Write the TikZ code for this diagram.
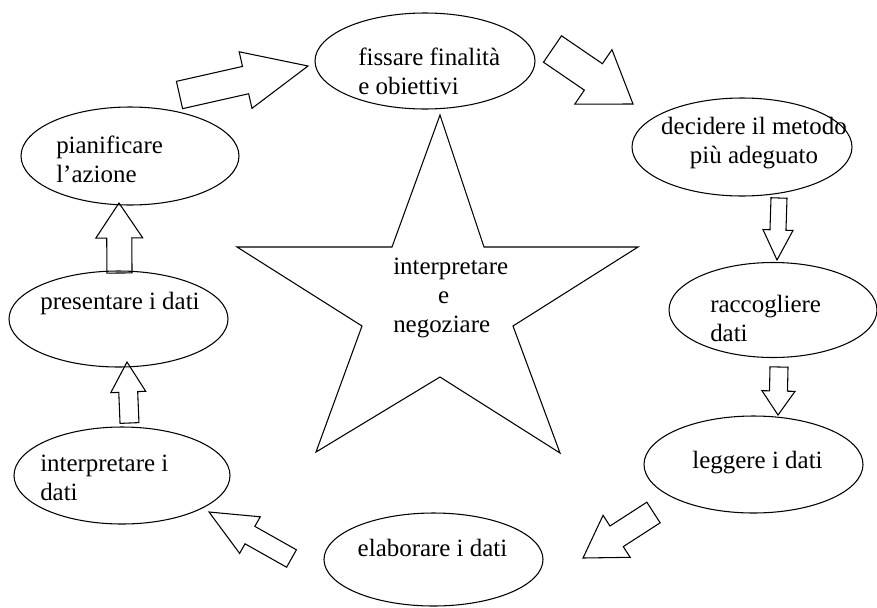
\documentclass[tikz,border=0pt]{standalone}
\usepackage{fontspec}
\setmainfont{Liberation Serif}
\usetikzlibrary{shapes.geometric,calc}

% block arrow: #1 tail, #2 tip, #3 half shaft, #4 half head, #5 head length
\newcommand{\blockarrow}[5]{%
\coordinate (hb) at ($(#2)!#5!(#1)$);
\draw [barrow] ($(#1)!#3!90:(#2)$) -- ($(hb)!#3!90:(#2)$) -- ($(hb)!#4!90:(#2)$) -- (#2) -- ($(hb)!#4!-90:(#2)$) -- ($(hb)!#3!-90:(#2)$) -- ($(#1)!#3!-90:(#2)$) -- cycle ;
}

\begin{document}
\begin{tikzpicture}[x=0.75pt,y=0.75pt,yscale=-1,xscale=1,
  tappa/.style={draw, ellipse, line width=0.8pt, inner sep=0pt},
  testo/.style={font=\fontsize{18.7}{21.75}\selectfont, inner sep=0pt},
  barrow/.style={draw, line width=0.8pt}]
\useasboundingbox (0,0) rectangle (877,607);

%Shape: Ellipse
\node [tappa, minimum width=165pt, minimum height=72pt] (fissare) at (425,61) {};
%Shape: Ellipse
\node [tappa, minimum width=165pt, minimum height=73.5pt] (decidere) at (742,147) {};
%Shape: Ellipse
\node [tappa, minimum width=156pt, minimum height=71.25pt] (raccogliere) at (773,310) {};
%Shape: Ellipse
\node [tappa, minimum width=164.25pt, minimum height=72.75pt] (leggere) at (753.5,464.5) {};
%Shape: Ellipse
\node [tappa, minimum width=164.25pt, minimum height=69.75pt] (elaborare) at (433.5,559.5) {};
%Shape: Ellipse
\node [tappa, minimum width=162pt, minimum height=72.75pt] (interpretare) at (122,475.5) {};
%Shape: Ellipse
\node [tappa, minimum width=164.25pt, minimum height=72pt] (presentare) at (118.5,319) {};
%Shape: Ellipse
\node [tappa, minimum width=163.5pt, minimum height=73.5pt] (pianificare) at (130,156) {};

%Shape: Star
\draw [line width=0.8pt] (440,115) -- (484,247) -- (638,247) -- (513,326) -- (560,453) -- (440,377) -- (316,452) -- (362,326) -- (237,247) -- (392,247) -- cycle ;

%Block Arrows
\coordinate (c1) at (179.5,95);  \coordinate (p1) at (308,66);
\coordinate (c2) at (552.5,49);  \coordinate (p2) at (633,104);
\coordinate (c3) at (779,198);   \coordinate (p3) at (777,260);
\coordinate (c4) at (779,367);   \coordinate (p4) at (778,415);
\coordinate (c5) at (653.5,512.5); \coordinate (p5) at (583,558);
\coordinate (c6) at (291.5,558.5); \coordinate (p6) at (209,512);
\coordinate (c7) at (129.5,423); \coordinate (p7) at (127,362);
\coordinate (c8) at (119.5,273); \coordinate (p8) at (119,203);
\blockarrow{c1}{p1}{10.5pt}{21.75pt}{48pt}
\blockarrow{c2}{p2}{12pt}{24.75pt}{36pt}
\blockarrow{c3}{p3}{6pt}{11.25pt}{22.5pt}
\blockarrow{c4}{p4}{6.75pt}{12.4pt}{18pt}
\blockarrow{c5}{p5}{9.2pt}{18.75pt}{30pt}
\blockarrow{c6}{p6}{7.5pt}{15.75pt}{35.25pt}
\blockarrow{c7}{p7}{7.1pt}{13.1pt}{22.5pt}
\blockarrow{c8}{p8}{9.4pt}{17.6pt}{26.25pt}

% Text Node
\node [testo, anchor=west, align=left] (fissare-t) at (358,71) {fissare finalità\\e obiettivi};
% Text Node
\node [testo, align=center] (decidere-t) at (754,143) {decidere il metodo\\più adeguato};
% Text Node
\node [testo, anchor=west, align=left] (raccogliere-t) at (710,318) {raccogliere\\dati};
% Text Node
\node [testo] (leggere-t) at (757.5,463) {leggere i dati};
% Text Node
\node [testo] (elaborare-t) at (432.5,548) {elaborare i dati};
% Text Node
\node [testo, anchor=west, align=left] (interpretare-t) at (40,478) {interpretare i\\dati};
% Text Node
\node [testo] (presentare-t) at (120,303) {presentare i dati};
% Text Node
\node [testo, anchor=west, align=left] (pianificare-t) at (56,159) {pianificare\\l’azione};
% Text Node
\node [testo, anchor=west, align=left] (negoziare-t) at (393,298) {interpretare\\\hspace*{1.8em}e\\negoziare};

\end{tikzpicture}
\end{document}
